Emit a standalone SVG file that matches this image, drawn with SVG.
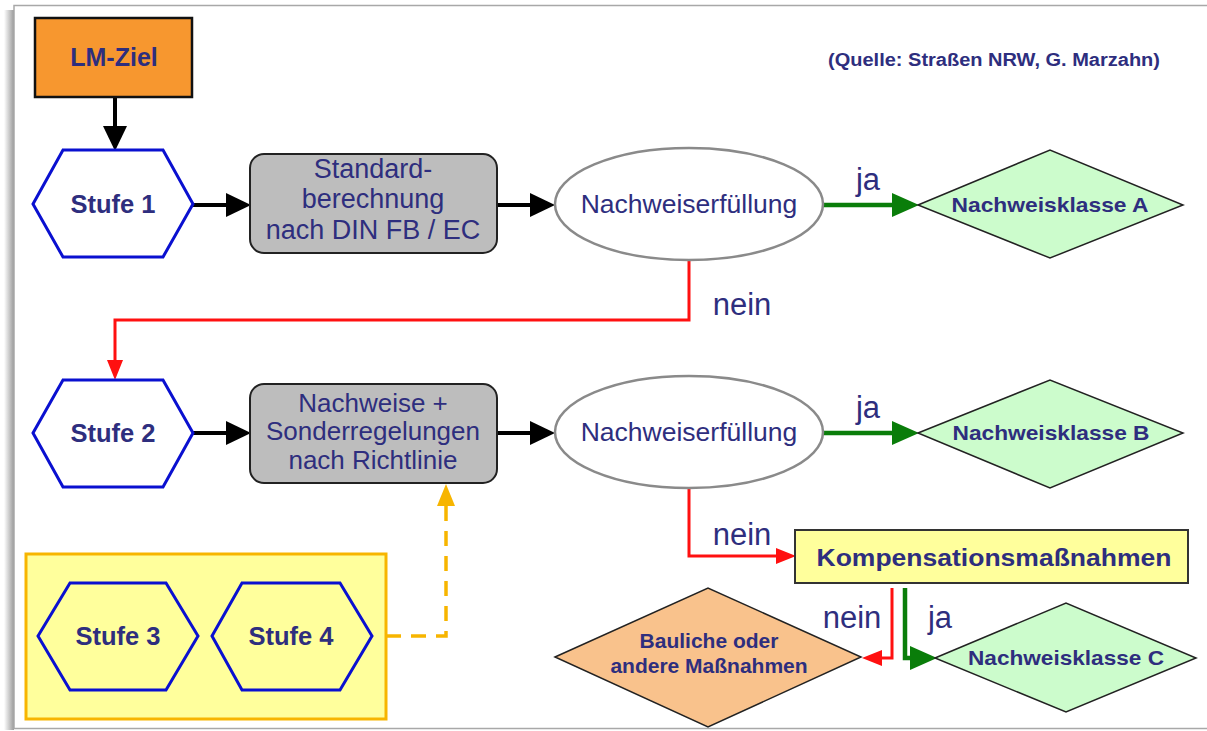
<svg xmlns="http://www.w3.org/2000/svg" width="1207" height="731" viewBox="0 0 1207 731">
<defs>
<linearGradient id="sh" x1="0" y1="0" x2="1" y2="0">
<stop offset="0" stop-color="#ffffff"/>
<stop offset="1" stop-color="#9a9a9a"/>
</linearGradient>
<marker id="mb" markerUnits="userSpaceOnUse" markerWidth="26" markerHeight="26" viewBox="0 0 26 26" refX="0" refY="13" orient="auto"><path d="M0,1 L25,13 L0,25 z" fill="#000"/></marker>
<marker id="mg" markerUnits="userSpaceOnUse" markerWidth="27" markerHeight="26" viewBox="0 0 27 26" refX="0" refY="13" orient="auto"><path d="M0,1 L27,13 L0,25 z" fill="#0a7d0a"/></marker>
<marker id="mr" markerUnits="userSpaceOnUse" markerWidth="20" markerHeight="18" viewBox="0 0 20 18" refX="0" refY="9" orient="auto"><path d="M0,1 L20,9 L0,17 z" fill="#ff1010"/></marker>
<marker id="mo" markerUnits="userSpaceOnUse" markerWidth="22" markerHeight="20" viewBox="0 0 22 20" refX="0" refY="10" orient="auto"><path d="M0,1 L22,10 L0,19 z" fill="#f7b500"/></marker>
</defs>
<style>
.t{font-family:"Liberation Sans",Arial,sans-serif;fill:#2e2e7e;text-anchor:middle}
.b{font-weight:bold}
.hex{fill:#fff;stroke:#0a10d0;stroke-width:3}
.hexy{fill:#ffff9c;stroke:#0a10d0;stroke-width:3}
.gb{fill:#bdbdbd;stroke:#222;stroke-width:2}
.el{fill:#fff;stroke:#8a8a8a;stroke-width:2.5}
.dg{fill:#ccfccc;stroke:#222;stroke-width:1.5}
.blk{fill:none;stroke:#000;stroke-width:4;marker-end:url(#mb)}
.grn{fill:none;stroke:#0a7d0a;stroke-width:4.5;marker-end:url(#mg)}
.red{fill:none;stroke:#ff1010;stroke-width:3;marker-end:url(#mr)}
</style>
<rect x="0" y="0" width="1207" height="731" fill="#fff"/>
<rect x="4" y="10" width="10" height="720" fill="url(#sh)"/>
<rect x="14" y="5.5" width="1200" height="723" fill="#fff" stroke="#a8a8a8" stroke-width="1.5"/>

<g id="connectors">
<path class="blk" d="M115,97 V126"/>
<path class="blk" d="M193,205 H226"/>
<path class="blk" d="M497,205 H530"/>
<path class="grn" d="M823,205 H892"/>
<path class="red" d="M689,260 V320 H115 V360"/>
<path class="blk" d="M193,433 H226"/>
<path class="blk" d="M497,433 H530"/>
<path class="grn" d="M823,433 H892"/>
<path class="red" d="M689,488 V556 H776"/>
<path class="red" d="M892,588 V658 H882"/>
<path class="grn" d="M905,588 V658 H910"/>
<path d="M386,636 H446 V506" fill="none" stroke="#f7b500" stroke-width="3.5" stroke-dasharray="15,10" marker-end="url(#mo)"/>
<text class="t" x="868" y="190" font-size="31">ja</text>
<text class="t" x="742" y="315" font-size="31">nein</text>
<text class="t" x="868" y="418" font-size="31">ja</text>
<text class="t" x="742" y="545" font-size="31">nein</text>
<text class="t" x="852" y="628" font-size="31">nein</text>
<text class="t" x="940" y="628" font-size="31">ja</text>
</g>

<g id="lm-ziel">
<rect x="35" y="18" width="157" height="79" fill="#f7972f" stroke="#111" stroke-width="2.5"/>
<text class="t b" x="114" y="66" font-size="25">LM-Ziel</text>
</g>

<g id="quelle">
<text class="t b" x="994" y="66" font-size="18" textLength="332" lengthAdjust="spacingAndGlyphs">(Quelle: Straßen NRW, G. Marzahn)</text>
</g>

<g id="stufe1">
<polygon class="hex" points="33,204 63,150 163,150 193,204 163,257 63,257"/>
<text class="t b" x="113" y="213" font-size="25.5">Stufe 1</text>
</g>

<g id="box1">
<rect class="gb" x="250" y="154" width="247" height="99" rx="14"/>
<text class="t" x="373" y="178" font-size="27">Standard-</text>
<text class="t" x="373" y="208" font-size="27">berechnung</text>
<text class="t" x="373" y="239" font-size="27">nach DIN FB / EC</text>
</g>

<g id="ell1">
<ellipse class="el" cx="689" cy="204" rx="134" ry="56"/>
<text class="t" x="689" y="213" font-size="26.5">Nachweiserfüllung</text>
</g>

<g id="klasseA">
<polygon class="dg" points="918,205 1050,150 1183,205 1050,258"/>
<text class="t b" x="1050" y="212" font-size="21" textLength="197" lengthAdjust="spacingAndGlyphs">Nachweisklasse A</text>
</g>

<g id="stufe2">
<polygon class="hex" points="33,433 63,380 163,380 193,433 163,487 63,487"/>
<text class="t b" x="113" y="442" font-size="25.5">Stufe 2</text>
</g>

<g id="box2">
<rect class="gb" x="250" y="384" width="247" height="99" rx="14"/>
<text class="t" x="373" y="412" font-size="26">Nachweise +</text>
<text class="t" x="373" y="440" font-size="26">Sonderregelungen</text>
<text class="t" x="373" y="469" font-size="26">nach Richtlinie</text>
</g>

<g id="ell2">
<ellipse class="el" cx="689" cy="432" rx="134" ry="56"/>
<text class="t" x="689" y="441" font-size="26.5">Nachweiserfüllung</text>
</g>

<g id="klasseB">
<polygon class="dg" points="918,433 1050,380 1183,433 1050,488"/>
<text class="t b" x="1051" y="440" font-size="21" textLength="197" lengthAdjust="spacingAndGlyphs">Nachweisklasse B</text>
</g>

<g id="kompensation">
<rect x="795" y="530" width="393" height="53" fill="#ffff9c" stroke="#333" stroke-width="2"/>
<text class="t b" x="994" y="566" font-size="23" textLength="355" lengthAdjust="spacingAndGlyphs">Kompensationsmaßnahmen</text>
</g>

<g id="bauliche">
<polygon points="555,657 708,588 861,657 708,727" fill="#f9c28c" stroke="#222" stroke-width="1.5"/>
<text class="t b" x="709" y="648" font-size="21">Bauliche oder</text>
<text class="t b" x="709" y="673" font-size="21">andere Maßnahmen</text>
</g>

<g id="klasseC">
<polygon class="dg" points="935,658 1066,603 1196,658 1066,712" />
<text class="t b" x="1066" y="665" font-size="21" textLength="196" lengthAdjust="spacingAndGlyphs">Nachweisklasse C</text>
</g>

<g id="stufe34">
<rect x="26" y="554" width="360" height="165" fill="#ffff9c" stroke="#f7b500" stroke-width="3"/>
<g id="stufe3">
<polygon class="hexy" points="38,636 70,583 166,583 198,636 166,690 70,690"/>
<text class="t b" x="118" y="645" font-size="25.5">Stufe 3</text>
</g>
<g id="stufe4">
<polygon class="hexy" points="212,636 242,583 340,583 372,636 340,690 242,690"/>
<text class="t b" x="291" y="645" font-size="25.5">Stufe 4</text>
</g>
</g>
</svg>
